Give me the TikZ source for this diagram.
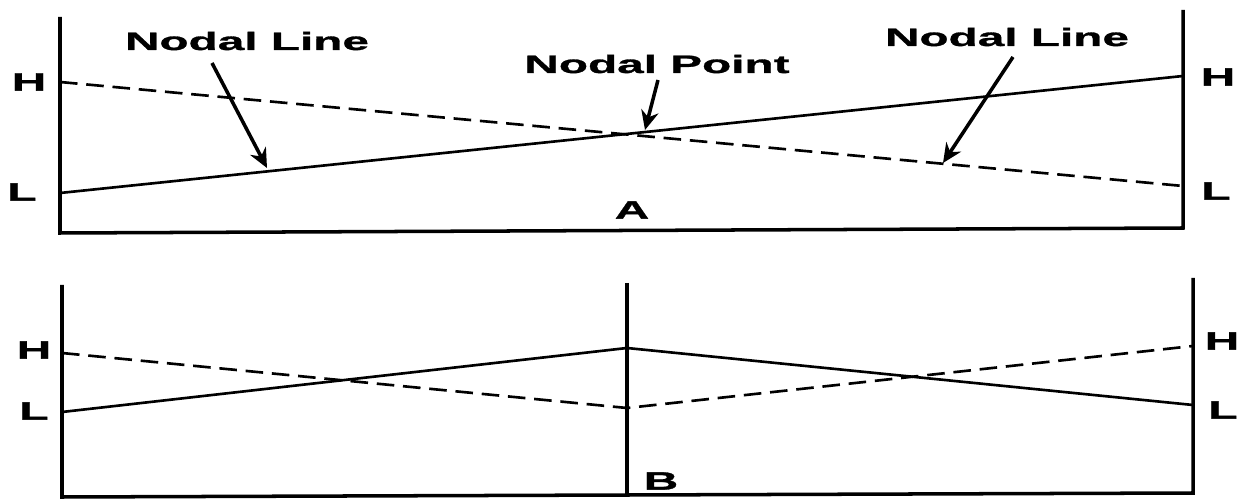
\documentclass[tikz,border=0pt]{standalone}
\usepackage{fontspec}
\newfontfamily\widesans{Liberation Sans}[FakeStretch=1.9, FakeBold=1.2]
\usetikzlibrary{arrows.meta}

\begin{document}
\begin{tikzpicture}[x=0.02cm, y=-0.02cm,
    wall/.style={line width=2pt},
    level/.style={line width=1.5pt},
    dashlevel/.style={line width=1.5pt, dash pattern=on 10pt off 5pt},
    lbl/.style={font=\widesans\bfseries\fontsize{14.3}{16}\selectfont, inner sep=0pt},
    pointer/.style={line width=2pt, -{Stealth[length=11pt,width=10pt]}}]
    \useasboundingbox (0,0) rectangle (1240,499);

    % Panel A: tank
    \coordinate (aTL) at (60,17);
    \coordinate (aBL) at (60,233);
    \coordinate (aBR) at (1183,228);
    \coordinate (aTR) at (1183,10);
    \draw[wall] (aTL) -- (aBL) -- (aBR) -- (aTR);

    % Panel A: water levels
    \coordinate (aHl) at (60,82);
    \coordinate (aLl) at (60,193);
    \coordinate (aHr) at (1183,76);
    \coordinate (aLr) at (1183,186);
    \draw[level] (aLl) -- (aHr);
    \draw[dashlevel] (aHl) -- (aLr);

    % Panel A: level letters
    \node[lbl] (aH1) at (29,82) {H};
    \node[lbl] (aL1) at (22,192) {L};
    \node[lbl] (aH2) at (1218,77) {H};
    \node[lbl] (aL2) at (1216,191) {L};
    \node[lbl] (capA) at (632,210) {A};

    % Panel A: labels and pointers
    \node[lbl] (lineL) at (247,41) {Nodal Line};
    \node[lbl] (point) at (657,64) {Nodal Point};
    \node[lbl] (lineR) at (1007,37) {Nodal Line};
    \coordinate (tailL) at (212,63);
    \coordinate (tipL) at (267,168);
    \coordinate (tailP) at (658,80);
    \coordinate (tipP) at (645,130);
    \coordinate (tailR) at (1013,57);
    \coordinate (tipR) at (943,163);
    \draw[pointer] (tailL) -- (tipL);
    \draw[pointer] (tailP) -- (tipP);
    \draw[pointer] (tailR) -- (tipR);

    % Panel B: tank with middle wall
    \coordinate (bTL) at (62,285);
    \coordinate (bBL) at (62,497);
    \coordinate (bTM) at (627,283);
    \coordinate (bBM) at (627,495);
    \coordinate (bTR) at (1193,278);
    \coordinate (bBR) at (1193,493);
    \draw[wall] (bTL) -- (bBL) -- (bBR) -- (bTR);
    \draw[wall] (bTM) -- (bBM);

    % Panel B: water levels
    \coordinate (bHl) at (62,353);
    \coordinate (bLl) at (62,412);
    \coordinate (bHm) at (627,348);
    \coordinate (bLm) at (627,408);
    \coordinate (bHr) at (1193,346);
    \coordinate (bLr) at (1193,405);
    \draw[level] (bLl) -- (bHm) -- (bLr);
    \draw[dashlevel] (bHl) -- (bLm) -- (bHr);

    % Panel B: level letters
    \node[lbl] (bH1) at (34,350) {H};
    \node[lbl] (bL1) at (34,411) {L};
    \node[lbl] (bH2) at (1222,341) {H};
    \node[lbl] (bL2) at (1223,410) {L};
    \node[lbl] (capB) at (661,481) {B};
\end{tikzpicture}
\end{document}
